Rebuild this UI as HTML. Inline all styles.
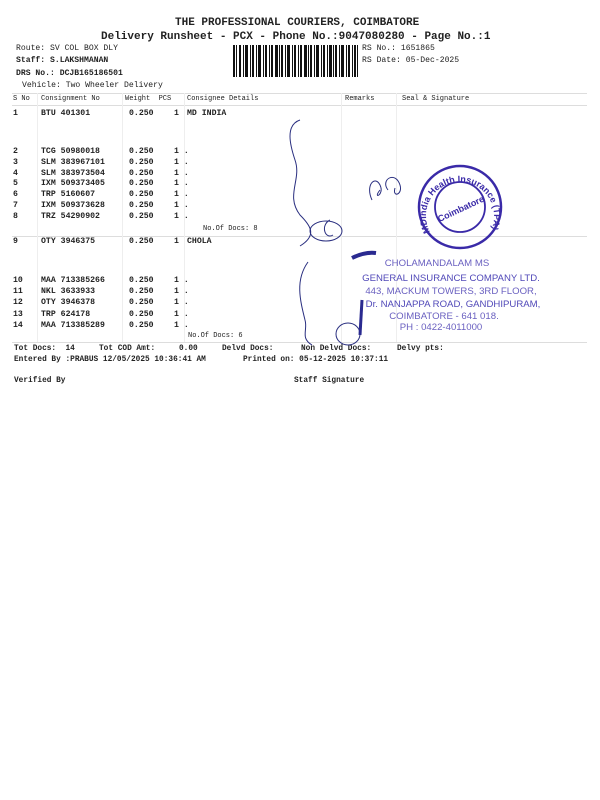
<!DOCTYPE html>
<html><head><meta charset="utf-8"><style>
body{margin:0;width:600px;height:800px;background:#fff;position:relative;overflow:hidden;font-family:"Liberation Mono",monospace;color:#222}
.t{position:absolute;white-space:pre;font-size:8.1px;line-height:10px}
.r{position:absolute;white-space:pre;font-size:8.2px;font-weight:bold;line-height:10.8px}
.b{font-weight:bold}
.h{position:absolute;height:1px;background:#ddd}
.v{position:absolute;width:1px;background:#eee}
</style></head><body>
<div class="t b" style="left:175px;top:17px;font-size:11px;line-height:13px">THE PROFESSIONAL COURIERS, COIMBATORE</div>
<div class="t b" style="left:101px;top:31px;font-size:11px;line-height:13px">Delivery Runsheet - PCX - Phone No.:9047080280 - Page No.:1</div>
<div class="t" style="left:16px;top:44px">Route: SV COL BOX DLY</div>
<div class="t b" style="left:16px;top:56px">Staff: S.LAKSHMANAN</div>
<div class="t b" style="left:16px;top:69px">DRS No.: DCJB165186501</div>
<div class="t" style="left:22px;top:81px">Vehicle: Two Wheeler Delivery</div>
<div class="t" style="left:362px;top:44px">RS No.: 1651865</div>
<div class="t" style="left:362px;top:56px">RS Date: 05-Dec-2025</div>
<svg style="position:absolute;left:233px;top:45px" width="125" height="32">
<g fill="#111">
<rect x="0" y="0" width="2" height="32"/><rect x="3" width="1" height="32"/><rect x="6" width="2" height="32"/><rect x="10" width="1" height="32"/><rect x="12" width="3" height="32"/><rect x="17" width="1" height="32"/><rect x="19" width="2" height="32"/><rect x="23" width="1" height="32"/><rect x="25" width="3" height="32"/><rect x="30" width="1" height="32"/><rect x="32" width="2" height="32"/><rect x="36" width="1" height="32"/><rect x="38" width="2" height="32"/><rect x="42" width="3" height="32"/><rect x="46" width="1" height="32"/><rect x="48" width="2" height="32"/><rect x="52" width="1" height="32"/><rect x="54" width="3" height="32"/><rect x="59" width="1" height="32"/><rect x="61" width="2" height="32"/><rect x="65" width="1" height="32"/><rect x="67" width="2" height="32"/><rect x="71" width="3" height="32"/><rect x="75" width="1" height="32"/><rect x="77" width="2" height="32"/><rect x="81" width="1" height="32"/><rect x="83" width="3" height="32"/><rect x="88" width="1" height="32"/><rect x="90" width="2" height="32"/><rect x="94" width="1" height="32"/><rect x="96" width="3" height="32"/><rect x="100" width="1" height="32"/><rect x="102" width="2" height="32"/><rect x="106" width="1" height="32"/><rect x="108" width="3" height="32"/><rect x="113" width="1" height="32"/><rect x="115" width="2" height="32"/><rect x="119" width="1" height="32"/><rect x="121" width="2" height="32"/><rect x="124" width="1" height="32"/>
</g></svg>
<div class="h" style="left:12px;top:93px;width:575px"></div>
<div class="h" style="left:12px;top:105px;width:575px"></div>
<div class="h" style="left:12px;top:236px;width:575px"></div>
<div class="h" style="left:12px;top:342px;width:575px"></div>
<div class="v" style="left:37px;top:93px;height:249px"></div>
<div class="v" style="left:122px;top:93px;height:249px"></div>
<div class="v" style="left:184px;top:93px;height:249px"></div>
<div class="v" style="left:341px;top:93px;height:249px"></div>
<div class="v" style="left:396px;top:93px;height:249px"></div>
<div class="t" style="left:13px;top:94px;font-size:7px">S No</div>
<div class="t" style="left:41px;top:94px;font-size:7px">Consignment No</div>
<div class="t" style="left:125px;top:94px;font-size:7px">Weight  PCS</div>
<div class="t" style="left:187px;top:94px;font-size:7px">Consignee Details</div>
<div class="t" style="left:345px;top:94px;font-size:7px">Remarks</div>
<div class="t" style="left:402px;top:94px;font-size:7px">Seal &amp; Signature</div>

<div class="r" style="left:13px;top:109px">1</div>
<div class="r" style="left:41px;top:109px">BTU 401301</div>
<div class="r" style="left:129px;top:109px">0.250</div>
<div class="r" style="left:174px;top:109px">1</div>
<div class="r" style="left:187px;top:109px">MD INDIA</div>

<div class="r" style="left:13px;top:147px">2
3
4
5
6
7
8</div>
<div class="r" style="left:41px;top:147px">TCG 50980018
SLM 383967101
SLM 383973504
IXM 509373405
TRP 5160607
IXM 509373628
TRZ 54290902</div>
<div class="r" style="left:129px;top:147px">0.250
0.250
0.250
0.250
0.250
0.250
0.250</div>
<div class="r" style="left:174px;top:147px">1 .
1 .
1 .
1 .
1 .
1 .
1 .</div>
<div class="t" style="left:203px;top:224px;font-size:7px">No.Of Docs: 8</div>

<div class="r" style="left:13px;top:237px">9</div>
<div class="r" style="left:41px;top:237px">OTY 3946375</div>
<div class="r" style="left:129px;top:237px">0.250</div>
<div class="r" style="left:174px;top:237px">1</div>
<div class="r" style="left:187px;top:237px">CHOLA</div>

<div class="r" style="left:13px;top:275px;line-height:11.2px">10
11
12
13
14</div>
<div class="r" style="left:41px;top:275px;line-height:11.2px">MAA 713385266
NKL 3633933
OTY 3946378
TRP 624178
MAA 713385289</div>
<div class="r" style="left:129px;top:275px;line-height:11.2px">0.250
0.250
0.250
0.250
0.250</div>
<div class="r" style="left:174px;top:275px;line-height:11.2px">1 .
1 .
1 .
1 .
1 .</div>
<div class="t" style="left:188px;top:331px;font-size:7px">No.Of Docs: 6</div>

<div class="t b" style="left:14px;top:344px;font-size:7.8px">Tot Docs:  14</div>
<div class="t b" style="left:99px;top:344px;font-size:7.8px">Tot COD Amt:</div>
<div class="t b" style="left:179px;top:344px;font-size:7.8px">0.00</div>
<div class="t b" style="left:222px;top:344px;font-size:7.8px">Delvd Docs:</div>
<div class="t b" style="left:301px;top:344px;font-size:7.8px">Non Delvd Docs:</div>
<div class="t b" style="left:397px;top:344px;font-size:7.8px">Delvy pts:</div>
<div class="t b" style="left:14px;top:355px;font-size:7.8px">Entered By :PRABUS 12/05/2025 10:36:41 AM</div>
<div class="t b" style="left:243px;top:355px;font-size:7.8px">Printed on: 05-12-2025 10:37:11</div>
<div class="t b" style="left:14px;top:376px;font-size:7.8px">Verified By</div>
<div class="t b" style="left:294px;top:376px;font-size:7.8px">Staff Signature</div>
<svg style="position:absolute;left:0;top:0" width="600" height="800">
<g fill="none" stroke="#2a2f80" stroke-width="1">
<path d="M300 120 C285 125 290 145 295 160 C302 180 285 195 300 215 C310 225 318 235 300 246"/>
<ellipse cx="326" cy="231" rx="16" ry="10"/>
<path d="M330 220 C320 225 325 240 333 235"/>
<path d="M308 262 C295 280 300 300 305 320 C308 330 300 338 312 345"/>
<ellipse cx="348" cy="334" rx="12" ry="11"/>
<path d="M372 200 C365 185 375 175 380 185 C385 195 372 200 380 190 M388 190 C380 180 395 170 400 185 C403 195 392 198 395 188"/>
</g>
<g fill="none" stroke="#3a2aa8">
<circle cx="460" cy="207" r="41" stroke-width="2.5"/>
<circle cx="460" cy="207" r="25" stroke-width="1.8"/>
</g>
<text x="460" y="212" font-family="Liberation Sans,sans-serif" font-size="9" font-weight="bold" fill="#3a2aa8" text-anchor="middle" transform="rotate(-25 460 207)">Coimbatore</text>
<path id="arc" d="M430 232 A34 34 0 1 1 490 232" fill="none"/>
<text font-family="Liberation Sans,sans-serif" font-size="9" font-weight="bold" fill="#3a2aa8"><textPath href="#arc">MDindia Health Insurance (TPA) Pvt Ltd</textPath></text>
<path d="M352 258 C360 254 368 252 376 253" stroke="#2a2a90" stroke-width="4" fill="none"/>
<path d="M362 300 L360 335" stroke="#2a2a90" stroke-width="3" fill="none"/>
<g font-family="Liberation Sans,sans-serif" font-size="9.6" fill="#6a60c0" text-anchor="middle">
<text x="437" y="266">CHOLAMANDALAM MS</text>
<text x="451" y="281" fill="#5048b8">GENERAL INSURANCE COMPANY LTD.</text>
<text x="451" y="294">443, MACKUM TOWERS, 3RD FLOOR,</text>
<text x="453" y="307" fill="#5048b8">Dr. NANJAPPA ROAD, GANDHIPURAM,</text>
<text x="444" y="319">COIMBATORE - 641 018.</text>
<text x="441" y="330">PH : 0422-4011000</text>
</g>
</svg>
</body></html>
